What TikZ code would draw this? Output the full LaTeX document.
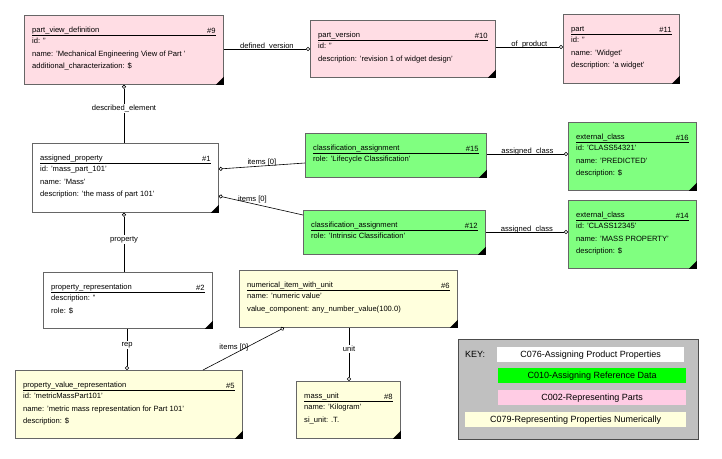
\documentclass[tikz,border=0pt]{standalone}
\usepackage{fontspec}
\setmainfont{Liberation Sans}
\usetikzlibrary{arrows.meta,positioning}
\definecolor{pvpink}{RGB}{255,221,228}
\definecolor{pvgreen}{RGB}{128,255,128}
\definecolor{pvyellow}{RGB}{255,255,221}
\definecolor{keygreen}{RGB}{0,255,0}
\definecolor{keypink}{RGB}{255,204,228}
\definecolor{keygray}{RGB}{192,192,192}
\tikzset{
  ent/.style={draw=black!60, line width=0.8pt, inner sep=0pt},
  txt/.style={anchor=north west, inner sep=0pt, align=left, font=\fontsize{7.6}{12.5}\selectfont},
  lnk/.style={line width=0.6pt, -{Circle[open,length=4pt]}},
  lnkb/.style={line width=0.6pt, {Circle[open,length=4pt]}-},
  lbl/.style={fill=white, inner sep=1pt, font=\fontsize{7.6}{9}\selectfont},
  key/.style={inner sep=0pt, minimum height=15pt, font=\fontsize{9}{11}\selectfont},
}
% box: name, x, y, width, height, colour, title, number, body
\newcommand{\ent}[9]{%
  \node[ent, fill=#6, minimum width=#4, minimum height=#5, anchor=north west] (#1) at (#2,#3) {};
  \fill ([xshift=-8pt]#1.south east) -- (#1.south east) -- ([yshift=8pt]#1.south east) -- cycle;
  \draw[line width=0.6pt] ([shift={(8pt,-20pt)}]#1.north west) -- ([shift={(-8pt,-20pt)}]#1.north east);
  \node[txt, anchor=south west] (#1-t) at ([shift={(8pt,-19pt)}]#1.north west) {#7};
  \node[txt, anchor=south east] (#1-n) at ([shift={(-8pt,-19pt)}]#1.north east) {#8};
  \node[txt] (#1-b) at ([shift={(8pt,-23pt)}]#1.north west) {#9};
}
\begin{document}
\begin{tikzpicture}[x=1pt,y=-1pt]
  \useasboundingbox (0,0) rectangle (722,458);
  % pink
  \ent{pvd}{24}{15}{199pt}{69pt}{pvpink}{part\_view\_definition}{\#9}{id: ''\\name: 'Mechanical Engineering View of Part '\\additional\_characterization: \$}
  \ent{pv}{310}{20}{185pt}{57pt}{pvpink}{part\_version}{\#10}{id: ''\\description: 'revision 1 of widget design'}
  \ent{part}{563}{14}{116pt}{69pt}{pvpink}{part}{\#11}{id: ''\\name: 'Widget'\\description: 'a widget'}
  % white
  \ent{ap}{32}{143}{186pt}{69pt}{white}{assigned\_property}{\#1}{id: 'mass\_part\_101'\\name: 'Mass'\\description: 'the mass of part 101'}
  \ent{pr}{43}{272}{169pt}{56pt}{white}{property\_representation}{\#2}{description: ''\\role: \$}
  % green
  \ent{ca15}{305}{133}{181pt}{44pt}{pvgreen}{classification\_assignment}{\#15}{role: 'Lifecycle Classification'}
  \ent{ca12}{303}{210}{182pt}{44pt}{pvgreen}{classification\_assignment}{\#12}{role: 'Intrinsic Classification'}
  \ent{ec16}{568}{122}{128pt}{68pt}{pvgreen}{external\_class}{\#16}{id: 'CLASS54321'\\name: 'PREDICTED'\\description: \$}
  \ent{ec14}{568}{200}{128pt}{68pt}{pvgreen}{external\_class}{\#14}{id: 'CLASS12345'\\name: 'MASS PROPERTY'\\description: \$}
  % yellow
  \ent{niwu}{239}{270}{218pt}{57pt}{pvyellow}{numerical\_item\_with\_unit}{\#6}{name: 'numeric value'\\value\_component: any\_number\_value(100.0)}
  \ent{pvr}{15}{370}{227pt}{68pt}{pvyellow}{property\_value\_representation}{\#5}{id: 'metricMassPart101'\\name: 'metric mass representation for Part 101'\\description: \$}
  \ent{mu}{296}{381}{104pt}{57pt}{pvyellow}{mass\_unit}{\#8}{name: 'Kilogram'\\si\_unit: .T.}
  % connectors
  \draw[lnk] (pvd.east |- 0,49) -- node[lbl, fill=none, above=-2pt] {defined\_version} (pv.west |- 0,49);
  \draw[lnk] (pv.east |- 0,47) -- node[lbl, fill=none, above=-2pt] {of\_product} (part.west |- 0,47);
  \draw[lnkb] (pvd.south -| 124,0) -- node[lbl, pos=0.4] {described\_element} (ap.north -| 124,0);
  \draw[lnkb] (ap.east |- 0,169) -- node[lbl, fill=none, above=-1pt] {items [0]} (ca15.west |- 0,163);
  \draw[lnkb] (ap.east |- 0,196) -- node[lbl, fill=none, above=-1pt, pos=0.4] {items [0]} (ca12.west |- 0,215);
  \draw[lnk] (ca15.east |- 0,154) -- node[lbl, fill=none, above=-2pt] {assigned\_class} (ec16.west |- 0,154);
  \draw[lnk] (ca12.east |- 0,232) -- node[lbl, fill=none, above=-2pt] {assigned\_class} (ec14.west |- 0,232);
  \draw[lnkb] (ap.south -| 124,0) -- node[lbl, pos=0.45] {property} (pr.north -| 124,0);
  \draw[lnk] (pr.south -| 127,0) -- node[lbl, pos=0.4] {rep} (pvr.north -| 127,0);
  \draw[lnkb] (niwu.south -| 284,0) -- node[lbl, fill=none, pos=0.5, above left=-3pt and -6pt] {items [0]} (pvr.north -| 203,0);
  \draw[lnk] (niwu.south -| 349,0) -- node[lbl, pos=0.4] {unit} (mu.north -| 349,0);
  % key
  \node[draw=black!70, line width=0.8pt, fill=keygray, minimum width=240pt, minimum height=100pt, anchor=north west] (keybox) at (458,339) {};
  \node[key, anchor=west] (keylbl) at (465,354) {KEY:};
  \node[key, fill=white, minimum width=187pt, anchor=north west] (k076) at (497,347) {C076-Assigning Product Properties};
  \node[key, fill=keygreen, minimum width=188pt, anchor=north west] (k010) at (498,368) {C010-Assigning Reference Data};
  \node[key, fill=keypink, minimum width=188pt, anchor=north west] (k002) at (498,390) {C002-Representing Parts};
  \node[key, fill=pvyellow, minimum width=221pt, anchor=north west] (k079) at (465,412) {C079-Representing Properties Numerically};
\end{tikzpicture}
\end{document}
